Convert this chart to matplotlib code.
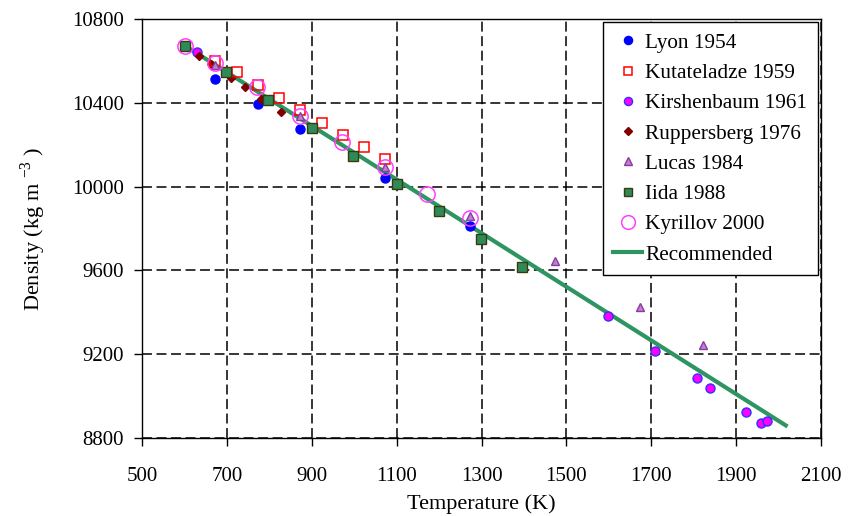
import matplotlib
matplotlib.use('Agg')
from matplotlib import pyplot as plt

# data (T in K, density in kg m-3)
lyon_t = [673, 773, 873, 1073, 1273]
lyon_d = [10512, 10394, 10274, 10042, 9812]

kutateladze_t = [673, 723, 773, 823, 873, 923, 973, 1023, 1073]
kutateladze_d = [10598, 10545, 10483, 10425, 10367, 10305, 10247, 10190, 10132]

kirshenbaum_t = [630, 1598, 1709, 1808, 1838, 1923, 1958, 1973]
kirshenbaum_d = [10642, 9382, 9213, 9088, 9040, 8925, 8872, 8882]

ruppersberg_t = [634, 663, 710, 743, 780, 828]
ruppersberg_d = [10622, 10584, 10516, 10473, 10420, 10357]

lucas_t = [673, 873, 1073, 1273, 1473, 1673, 1822]
lucas_d = [10580, 10338, 10093, 9858, 9646, 9425, 9242]

iida_t = [601, 698, 797, 900, 997, 1101, 1200, 1299, 1395]
iida_d = [10670, 10545, 10415, 10281, 10146, 10012, 9882, 9752, 9617]

kyrillov_t = [601, 672, 771, 872, 971, 1073, 1172, 1273]
kyrillov_d = [10670, 10588, 10473, 10338, 10213, 10093, 9963, 9848]

rec_t = [600.6, 2017]
rec_d = [10673, 8860]

plt.rcParams['font.family'] = 'Liberation Serif'
plt.rcParams['mathtext.fontset'] = 'custom'
plt.rcParams['mathtext.rm'] = 'Liberation Serif'

fig = plt.figure(figsize=(8.49, 5.16), dpi=100)
ax = fig.add_axes([0.1673, 0.1512, 0.7997, 0.812])

ax.plot(rec_t, rec_d, color='#2e9461', lw=3.0, zorder=2, label='Recommended')
ax.plot(lyon_t, lyon_d, 'o', ms=6.5, mfc='#0000ff', mec='#0000ff', zorder=3, label='Lyon 1954')
ax.plot(kutateladze_t, kutateladze_d, 's', ms=6.5, mfc='none', mec='#ff0000', mew=1.1, zorder=4, label='Kutateladze 1959')
ax.plot(kirshenbaum_t, kirshenbaum_d, 'o', ms=6.5, mfc='#ff00ff', mec='#3030ff', mew=1.0, zorder=3, label='Kirshenbaum 1961')
ax.plot(ruppersberg_t, ruppersberg_d, 'D', ms=4.2, mfc='#800000', mec='#800000', zorder=3, label='Ruppersberg 1976')
ax.plot(lucas_t, lucas_d, '^', ms=6, mfc='#c080d0', mec='#8a3aa0', mew=1.0, zorder=4, label='Lucas 1984')
ax.plot(iida_t, iida_d, 's', ms=6.8, mfc='#2e8b57', mec='#3a3a10', mew=1.0, zorder=4, label='Iida 1988')
ax.plot(kyrillov_t, kyrillov_d, 'o', ms=11, mfc='none', mec='#ff40ff', mew=1.1, zorder=5, label='Kyrillov 2000')

ax.set_xlim(500, 2100)
ax.set_ylim(8800, 10800)
ax.set_xticks(range(500, 2101, 200))
ax.set_yticks(range(8800, 10801, 400))
ax.grid(True, color='black', ls=(0, (6.5, 3)), lw=1.1)
ax.tick_params(direction='out', length=6, width=1, labelsize=15)
ax.tick_params(axis='x', pad=15)
ax.tick_params(axis='y', pad=7)
for s in ax.spines.values():
    s.set_linewidth(1.0)

ax.set_xlabel('Temperature (K)', fontsize=16, labelpad=6)
ax.set_ylabel('Density (kg m $^{-3}$ )', fontsize=16, labelpad=17)

handles, labels = ax.get_legend_handles_labels()
order = [1, 2, 3, 4, 5, 6, 7, 0]
leg = ax.legend([handles[i] for i in order], [labels[i] for i in order],
                loc='upper right', fontsize=15.3, frameon=True, fancybox=False,
                edgecolor='black', framealpha=1, borderaxespad=0.15,
                handlelength=1.35, handletextpad=0.15, labelspacing=0.49,
                borderpad=0.5, markerscale=0.9)
leg.get_frame().set_linewidth(1.0)

fig.savefig('out.png', dpi=100)
plt.close()
